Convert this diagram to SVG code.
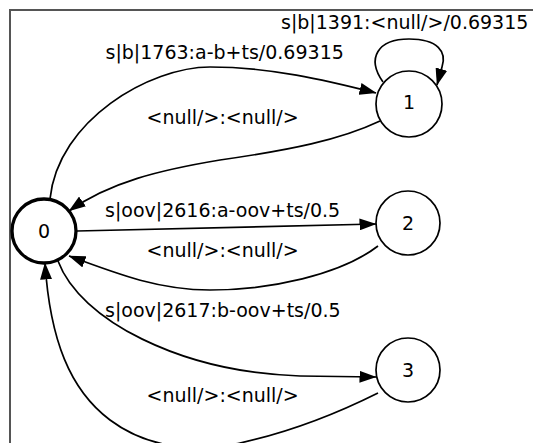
<svg xmlns="http://www.w3.org/2000/svg" width="533" height="443" viewBox="0 0 533 443">
<defs>
<style>
.node circle{fill:#fff;stroke:#000;stroke-width:1.7}
.node.start circle{stroke-width:3.3}
.lbl{font-family:"DejaVu Sans",sans-serif;font-size:19px;fill:#000}
.nl{text-anchor:middle}
.edge{fill:none;stroke:#000;stroke-width:1.7}
</style>
<marker id="ah" viewBox="0 0 17 12" refX="16.5" refY="6" markerWidth="17" markerHeight="12" markerUnits="userSpaceOnUse" orient="auto">
<path d="M0,0 L17,6 L0,12 Z" fill="#000"/>
</marker>
</defs>
<rect x="0" y="0" width="533" height="443" fill="#fff"/>
<rect x="10" y="10" width="700" height="700" fill="#fff" stroke="#555" stroke-width="2"/>
<g id="connectors">
<path class="edge" marker-end="url(#ah)" d="M50,199 C58,120 150,67 210,67 C270,67 325,80 376,93"/>
<path class="edge" marker-end="url(#ah)" d="M383,82 C366,58 378,39 409,39 C438,39 447,52 442,67 L437,85"/>
<path class="edge" marker-end="url(#ah)" d="M380,121 C340,140 290,150 220,160 C160,170 110,182 69,211"/>
<path class="edge" marker-end="url(#ah)" d="M77,231 L376,224"/>
<path class="edge" marker-end="url(#ah)" d="M378,246 C340,275 270,290 210,290 C160,290 120,275 69,256"/>
<path class="edge" marker-end="url(#ah)" d="M58,261 C80,320 180,372 300,376 L376,377"/>
<path class="edge" marker-end="url(#ah)" d="M378,393 C340,412 290,432 240,443 C200,452 150,450 110,420 C70,390 50,340 45,263"/>
</g>
<g class="lbl">
<text x="281" y="29">s|b|1391:&lt;null/&gt;/0.69315</text>
<text x="105.5" y="59">s|b|1763:a-b+ts/0.69315</text>
<text x="146.5" y="124">&lt;null/&gt;:&lt;null/&gt;</text>
<text x="105" y="217">s|oov|2616:a-oov+ts/0.5</text>
<text x="146.5" y="257">&lt;null/&gt;:&lt;null/&gt;</text>
<text x="105" y="317">s|oov|2617:b-oov+ts/0.5</text>
<text x="146.5" y="402">&lt;null/&gt;:&lt;null/&gt;</text>
</g>
<g id="node0" class="node start"><circle cx="44" cy="231" r="32"/><text class="lbl nl" x="44" y="238">0</text></g>
<g id="node1" class="node"><circle cx="409" cy="104" r="33"/><text class="lbl nl" x="409" y="109">1</text></g>
<g id="node2" class="node"><circle cx="408" cy="223" r="32"/><text class="lbl nl" x="408" y="230">2</text></g>
<g id="node3" class="node"><circle cx="408" cy="370" r="32"/><text class="lbl nl" x="408" y="377">3</text></g>
</svg>
